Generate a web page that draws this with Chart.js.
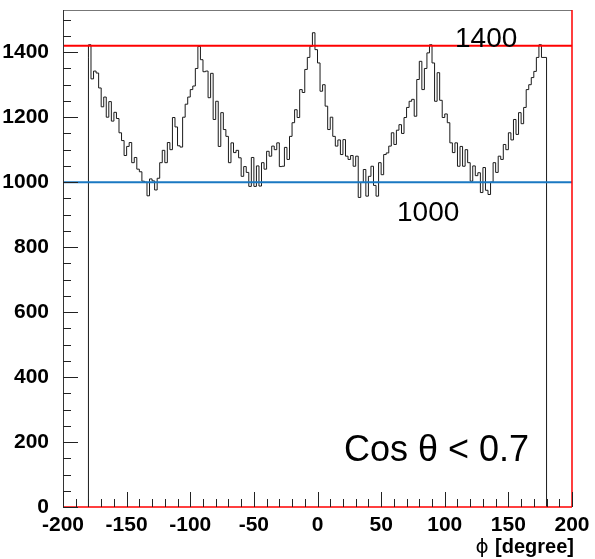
<!DOCTYPE html>
<html lang="en">
<head>
    <meta charset="UTF-8">
    <title>phi distribution</title>
    <script src="https://cdn.jsdelivr.net/npm/chart.js"></script>
    <style>
        html, body { margin: 0; padding: 0; background: #ffffff; }
        #chart { display: block; }
    </style>
</head>
<body>
    <canvas id="chart" width="595" height="559"></canvas>
    <script>
    // histogram: 180 bins of 2 degrees from -180 to 180
    var binLow = -180;
    var binWidth = 2;
    var counts = [
        1385, 1423, 1318, 1342, 1336,   1290, 1232, 1262, 1200, 1248,
        1188, 1215, 1196, 1152, 1128,   1082, 1110, 1122, 1060, 1076,
        1040, 1032, 1003, 1000, 958,    1010, 1004, 976, 1012, 1060,
        1098, 1060, 1122, 1100, 1199,   1170, 1112, 1108, 1200, 1240,
        1262, 1285, 1296, 1350, 1418,   1377, 1340, 1342, 1260, 1335,
        1193, 1249, 1110, 1214, 1162,   1141, 1060, 1121, 1091, 1098,
        1075, 1018, 1048, 1030, 987,    1076, 987, 1050, 988, 1060,
        1040, 1095, 1080, 1111, 1100,   1121, 1048, 1049, 1107, 1070,
        1141, 1183, 1223, 1199, 1285,   1276, 1347, 1384, 1418, 1460,
        1408, 1367, 1280, 1300, 1234,   1162, 1200, 1141, 1111, 1130,
        1085, 1131, 1080, 1070, 1082,   1049, 1080, 953, 999, 1039,
        957, 1018, 1049, 990, 957,      1060, 1023, 1085, 1090, 1111,
        1152, 1116, 1160, 1177, 1150,   1199, 1230, 1249, 1255, 1203,
        1316, 1372, 1285, 1350, 1398,   1423, 1367, 1249, 1337, 1252,
        1199, 1210, 1183, 1121, 1091,   1121, 1049, 1110, 1049, 1100,
        1060, 1003, 1050, 1020, 1029,   968, 1045, 975, 962, 1000,
        1060, 1030, 1080, 1070, 1116,   1100, 1152, 1130, 1193, 1147,
        1214, 1180, 1230, 1285, 1300,   1322, 1341, 1384, 1423, 1384
    ];
    var upperLevel = 1420;
    var lowerLevel = 1000;
    var xTicks = [-200, -150, -100, -50, 0, 50, 100, 150, 200];
    var yTicks = [0, 200, 400, 600, 800, 1000, 1200, 1400];
    var xRange = [-200, 200];
    var yRange = [0, 1530];

    var FONT = "'Liberation Sans', Arial, Helvetica, sans-serif";

    // step outline: start and end at zero like a ROOT histogram
    var histPoints = [{ x: binLow, y: 0 }];
    counts.forEach(function (c, i) {
        histPoints.push({ x: binLow + i * binWidth, y: c });
    });
    histPoints.push({ x: binLow + counts.length * binWidth, y: counts[counts.length - 1] });
    histPoints.push({ x: binLow + counts.length * binWidth, y: 0 });

    var rootStyle = {
        id: 'rootStyle',
        afterDatasetsDraw: function (chart) {
            var ctx = chart.ctx;
            var a = chart.chartArea;
            var xs = chart.scales.x, ys = chart.scales.y;
            ctx.save();

            // frame
            ctx.lineWidth = 1;
            ctx.strokeStyle = '#777777';
            ctx.beginPath();
            ctx.moveTo(a.left + 0.5, a.top + 0.5);
            ctx.lineTo(a.right, a.top + 0.5);
            ctx.stroke();
            ctx.strokeStyle = '#333333';
            ctx.beginPath();
            ctx.moveTo(a.left + 0.5, a.top);
            ctx.lineTo(a.left + 0.5, a.bottom);
            ctx.stroke();
            ctx.strokeStyle = '#ff0000';
            ctx.lineWidth = 1.5;
            ctx.beginPath();
            ctx.moveTo(a.left, a.bottom);
            ctx.lineTo(a.right, a.bottom);
            ctx.moveTo(a.right, a.top);
            ctx.lineTo(a.right, a.bottom);
            ctx.stroke();

            // inner ticks
            ctx.strokeStyle = '#222222';
            ctx.lineWidth = 1;
            ctx.beginPath();
            for (var v = yRange[0]; v <= yRange[1]; v += 50) {
                var py = Math.round(ys.getPixelForValue(v)) + 0.5;
                var len = (v % 200 === 0) ? 15 : 8;
                ctx.moveTo(a.left, py);
                ctx.lineTo(a.left + len, py);
            }
            for (var u = xRange[0]; u <= xRange[1]; u += 10) {
                var px = Math.round(xs.getPixelForValue(u)) + 0.5;
                var l2 = (u % 50 === 0) ? 15 : 8;
                ctx.moveTo(px, a.bottom);
                ctx.lineTo(px, a.bottom - l2);
            }
            ctx.stroke();

            // texts
            ctx.fillStyle = '#000000';
            ctx.textBaseline = 'alphabetic';
            ctx.textAlign = 'left';
            ctx.font = '28px ' + FONT;
            ctx.fillText('1400', 455, 47);
            ctx.fillText('1000', 397, 221);
            ctx.font = '36px ' + FONT;
            ctx.fillText('Cos \u03b8 < 0.7', 344, 461);
            ctx.textAlign = 'right';
            ctx.font = 'bold 20px ' + FONT;
            ctx.fillText('[degree]', 574, 553);
            var w = ctx.measureText('[degree]').width;
            ctx.font = '20px DejaVu Sans, sans-serif';
            ctx.fillText('\u03d5 ', 574 - w, 553);
            ctx.restore();
        }
    };

    new Chart(document.getElementById('chart'), {
        type: 'scatter',
        data: {
            datasets: [
                {
                    data: histPoints,
                    showLine: true,
                    stepped: 'after',
                    borderColor: '#1a1a1a',
                    borderWidth: 1,
                    pointRadius: 0,
                    fill: false,
                    order: 3
                },
                {
                    data: [{ x: xRange[0], y: lowerLevel }, { x: xRange[1], y: lowerLevel }],
                    showLine: true,
                    borderColor: '#1a78c2',
                    borderWidth: 2,
                    pointRadius: 0,
                    order: 2
                },
                {
                    data: [{ x: xRange[0], y: upperLevel }, { x: xRange[1], y: upperLevel }],
                    showLine: true,
                    borderColor: '#ff0000',
                    borderWidth: 2,
                    pointRadius: 0,
                    order: 1
                }
            ]
        },
        options: {
            responsive: false,
            animation: false,
            devicePixelRatio: 1,
            layout: { padding: { top: 10, right: 23, left: 0, bottom: 0 } },
            plugins: {
                legend: { display: false },
                tooltip: { enabled: false }
            },
            scales: {
                x: {
                    type: 'linear',
                    min: xRange[0],
                    max: xRange[1],
                    grid: { display: false },
                    border: { display: false },
                    ticks: {
                        color: '#000000',
                        font: { family: FONT, size: 21, weight: 'bold' },
                        padding: -2,
                        maxRotation: 0,
                        autoSkip: false,
                        callback: function (v) { return String(v); }
                    },
                    afterBuildTicks: function (s) {
                        s.ticks = xTicks.map(function (v) { return { value: v }; });
                    },
                    afterFit: function (s) {
                        s.height = 52;
                        s.paddingLeft = 0;
                        s.paddingRight = 0;
                    }
                },
                y: {
                    type: 'linear',
                    min: yRange[0],
                    max: yRange[1],
                    grid: { display: false },
                    border: { display: false },
                    ticks: {
                        color: '#000000',
                        font: { family: FONT, size: 21, weight: 'bold' },
                        padding: 6,
                        callback: function (v) { return String(v); }
                    },
                    afterBuildTicks: function (s) {
                        s.ticks = yTicks.map(function (v) { return { value: v }; });
                    },
                    afterFit: function (s) {
                        s.width = 63;
                        s.paddingTop = 0;
                        s.paddingBottom = 0;
                    }
                }
            }
        },
        plugins: [rootStyle]
    });
    </script>
</body>
</html>
